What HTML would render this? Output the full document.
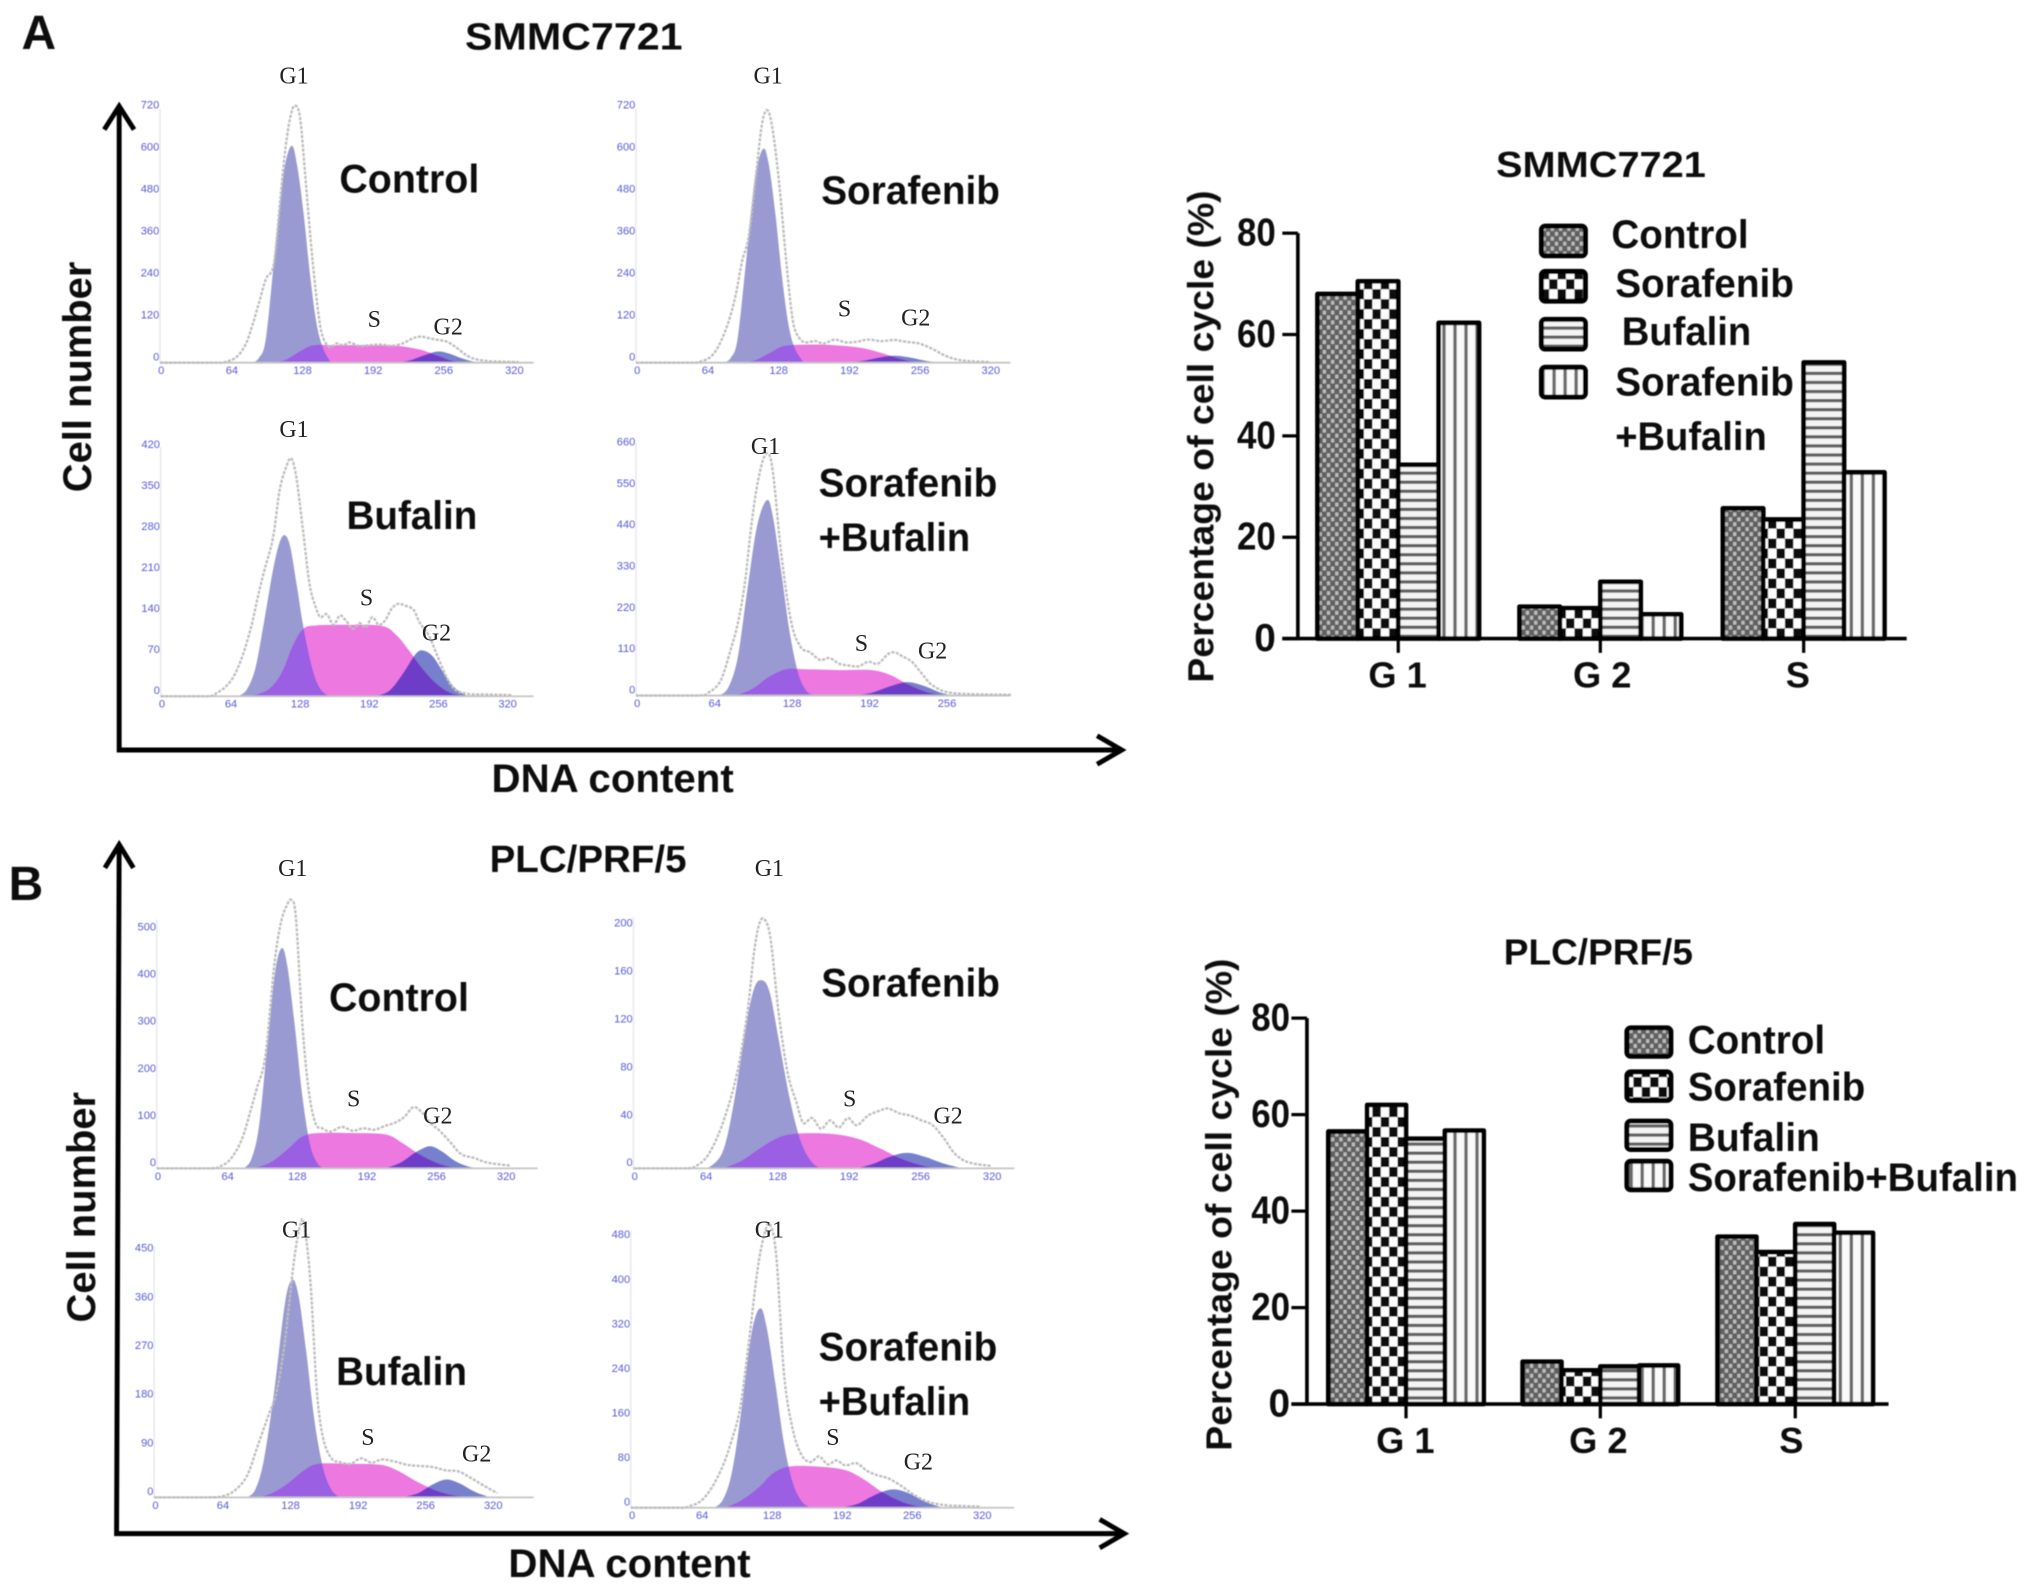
<!DOCTYPE html>
<html lang="en">
<head>
<meta charset="utf-8">
<title>Cell cycle distribution – SMMC7721 and PLC/PRF/5</title>
<style>
html,body{margin:0;padding:0;background:#fff;}
svg{display:block;}
text{font-family:"Liberation Sans",sans-serif;fill:#111;}
.b{font-weight:bold;dominant-baseline:central;}
.m{text-anchor:middle;}
</style>
</head>
<body>
<svg id="figure" xmlns="http://www.w3.org/2000/svg" width="2031" height="1590" viewBox="0 0 1568 1227.5">
<defs>
  <filter id="soft" x="-5%" y="-5%" width="110%" height="110%"><feGaussianBlur stdDeviation="0.5"/></filter>
  <filter id="softer" x="-5%" y="-5%" width="110%" height="110%"><feGaussianBlur stdDeviation="0.45"/></filter>
  <pattern id="pat-control" patternUnits="userSpaceOnUse" width="6.4" height="7.6">
    <rect width="6.4" height="7.6" fill="#606060"/>
    <rect x="0.4" y="0.4" width="2.5" height="3" fill="#bdbdbd"/>
    <rect x="3.6" y="4.2" width="2.5" height="3" fill="#bdbdbd"/>
  </pattern>
  <pattern id="pat-sorafenib" patternUnits="userSpaceOnUse" width="13" height="15.4">
    <rect width="13" height="15.4" fill="#fff"/>
    <rect width="6.5" height="7.7" fill="#0a0a0a"/>
    <rect x="6.5" y="7.7" width="6.5" height="7.7" fill="#0a0a0a"/>
  </pattern>
  <pattern id="pat-bufalin" patternUnits="userSpaceOnUse" width="7" height="7">
    <rect width="7" height="7" fill="#f4f4f4"/>
    <rect y="0" width="7" height="2.5" fill="#606060"/>
  </pattern>
  <pattern id="pat-combo" patternUnits="userSpaceOnUse" width="8.5" height="8.5">
    <rect width="8.5" height="8.5" fill="#fafafa"/>
    <rect x="0" width="2.6" height="8.5" fill="#6a6a6a"/>
  </pattern>
</defs>
<rect width="1568" height="1227.5" fill="#fff"/>

<g filter="url(#softer)">
<text class="b m" x="30" y="26" font-size="37">A</text>
<text class="b m" x="20" y="683" font-size="37">B</text>
<text class="b m" x="443" y="28" font-size="29" textLength="168" lengthAdjust="spacingAndGlyphs">SMMC7721</text>
<text class="b m" x="454" y="663" font-size="29" textLength="152" lengthAdjust="spacingAndGlyphs">PLC/PRF/5</text>
</g>

<g id="histograms"></g>

<g fill="none" stroke="#000" stroke-width="3.8" filter="url(#softer)">
  <path d="M92 82V579H866"/>
  <path d="M80.500 100L92 82L103.500 100"/>
  <path d="M847 568L866 579L847 590"/>
</g>
<g fill="none" stroke="#000" stroke-width="3.8" filter="url(#softer)">
  <path d="M92 652L90 1184H868"/>
  <path d="M81 670L92 652L103 670"/>
  <path d="M849 1173L868 1184L849 1195"/>
</g>
<g filter="url(#softer)">
<text class="b m" transform="translate(60 291) rotate(-90)" font-size="31" textLength="178" lengthAdjust="spacingAndGlyphs">Cell number</text>
<text class="b m" x="473" y="601" font-size="31" textLength="187" lengthAdjust="spacingAndGlyphs">DNA content</text>
<text class="b m" transform="translate(63 932) rotate(-90)" font-size="31" textLength="178" lengthAdjust="spacingAndGlyphs">Cell number</text>
<text class="b m" x="486" y="1207" font-size="31" textLength="187" lengthAdjust="spacingAndGlyphs">DNA content</text>
</g>

<g font-size="31" filter="url(#softer)">
  <text class="b m" x="316" y="138" textLength="108" lengthAdjust="spacingAndGlyphs">Control</text>
  <text class="b m" x="703" y="147" textLength="138" lengthAdjust="spacingAndGlyphs">Sorafenib</text>
  <text class="b m" x="318" y="398" textLength="101" lengthAdjust="spacingAndGlyphs">Bufalin</text>
  <text class="b m" x="701" y="373" textLength="138" lengthAdjust="spacingAndGlyphs">Sorafenib</text>
  <text class="b m" x="690.500" y="415" textLength="117" lengthAdjust="spacingAndGlyphs">+Bufalin</text>
  <text class="b m" x="308" y="770" textLength="108" lengthAdjust="spacingAndGlyphs">Control</text>
  <text class="b m" x="703" y="759" textLength="138" lengthAdjust="spacingAndGlyphs">Sorafenib</text>
  <text class="b m" x="310" y="1059" textLength="101" lengthAdjust="spacingAndGlyphs">Bufalin</text>
  <text class="b m" x="701" y="1040" textLength="138" lengthAdjust="spacingAndGlyphs">Sorafenib</text>
  <text class="b m" x="690.500" y="1082" textLength="117" lengthAdjust="spacingAndGlyphs">+Bufalin</text>
</g>

<!-- Bar chart A static text -->
<g filter="url(#softer)">
<text class="b m" x="1236" y="127" font-size="28" textLength="162" lengthAdjust="spacingAndGlyphs">SMMC7721</text>
<text class="b m" transform="translate(927 337) rotate(-90)" font-size="28" textLength="380" lengthAdjust="spacingAndGlyphs">Percentage of cell cycle (%)</text>
<g font-size="31">
  <rect x="1190" y="174.500" width="34" height="23" rx="3" fill="url(#pat-control)" stroke="#000" stroke-width="3.8"/>
  <rect x="1190" y="209.500" width="34" height="23" rx="3" fill="url(#pat-sorafenib)" stroke="#000" stroke-width="3.8"/>
  <rect x="1190" y="246.500" width="34" height="23" rx="3" fill="url(#pat-bufalin)" stroke="#000" stroke-width="3.8"/>
  <rect x="1190" y="283.500" width="34" height="23" rx="3" fill="url(#pat-combo)" stroke="#000" stroke-width="3.8"/>
  <text class="b" x="1244" y="181" textLength="106" lengthAdjust="spacingAndGlyphs">Control</text>
  <text class="b" x="1247" y="219" textLength="138" lengthAdjust="spacingAndGlyphs">Sorafenib</text>
  <text class="b" x="1252" y="256" textLength="100" lengthAdjust="spacingAndGlyphs">Bufalin</text>
  <text class="b" x="1247" y="295" textLength="138" lengthAdjust="spacingAndGlyphs">Sorafenib</text>
  <text class="b" x="1247" y="337" textLength="117" lengthAdjust="spacingAndGlyphs">+Bufalin</text>
</g>
</g>

<!-- Bar chart B static text -->
<g filter="url(#softer)">
<text class="b m" x="1234" y="735" font-size="28" textLength="146" lengthAdjust="spacingAndGlyphs">PLC/PRF/5</text>
<text class="b m" transform="translate(941 930) rotate(-90)" font-size="28" textLength="380" lengthAdjust="spacingAndGlyphs">Percentage of cell cycle (%)</text>
<g font-size="31">
  <rect x="1256" y="793.500" width="34" height="22" rx="3" fill="url(#pat-control)" stroke="#000" stroke-width="3.8"/>
  <rect x="1256" y="827.500" width="34" height="22" rx="3" fill="url(#pat-sorafenib)" stroke="#000" stroke-width="3.8"/>
  <rect x="1256" y="865.500" width="34" height="22" rx="3" fill="url(#pat-bufalin)" stroke="#000" stroke-width="3.8"/>
  <rect x="1256" y="896.500" width="34" height="22" rx="3" fill="url(#pat-combo)" stroke="#000" stroke-width="3.8"/>
  <text class="b" x="1303" y="803" textLength="106" lengthAdjust="spacingAndGlyphs">Control</text>
  <text class="b" x="1303" y="839" textLength="137" lengthAdjust="spacingAndGlyphs">Sorafenib</text>
  <text class="b" x="1303" y="878" textLength="102" lengthAdjust="spacingAndGlyphs">Bufalin</text>
  <text class="b" x="1303" y="909" textLength="255" lengthAdjust="spacingAndGlyphs">Sorafenib+Bufalin</text>
</g>
</g>

<g id="chart-a" filter="url(#softer)"></g>
<g id="chart-b" filter="url(#softer)"></g>
</svg>

<script>
// ---------- Bar chart data ----------
const barCategories = ['G 1', 'G 2', 'S'];
const barTicks = [0, 20, 40, 60, 80];
const smmcControl = [68, 6.3, 25.7];
const smmcSorafenib = [70.5, 6, 23.5];
const smmcBufalin = [34.3, 11.2, 54.5];
const smmcCombo = [62.3, 4.8, 32.8];
const plcControl = [56.5, 8.8, 34.7];
const plcSorafenib = [62, 7, 31.5];
const plcBufalin = [55, 7.8, 37.3];
const plcCombo = [56.7, 8, 35.5];

// ---------- Histogram data: [channel, count] knots ----------
const histXTicks = [0, 64, 128, 192, 256, 320];
const histXTicksShort = [0, 64, 128, 192, 256];
const a1Ticks = [0, 120, 240, 360, 480, 600, 720];
const a2Ticks = [0, 120, 240, 360, 480, 600, 720];
const a3Ticks = [0, 70, 140, 210, 280, 350, 420];
const a4Ticks = [0, 110, 220, 330, 440, 550, 660];
const b1Ticks = [0, 100, 200, 300, 400, 500];
const b2Ticks = [0, 40, 80, 120, 160, 200];
const b3Ticks = [0, 90, 180, 270, 360, 450];
const b4Ticks = [0, 80, 160, 240, 320, 400, 480];

const a1G1 = [[84,0],[90,15],[96,70],[104,310],[112,540],[119,620],[124,570],[130,430],[136,250],[142,110],[148,40],[155,0]];
const a1S = [[103,0],[115,10],[128,35],[139,50],[160,50],[190,50],[215,48],[235,38],[250,22],[262,8],[272,0]];
const a1G2 = [[215,0],[228,8],[240,22],[252,32],[262,26],[274,12],[284,3],[292,0]];
const a1Line = [[0,0],[50,0],[60,3],[70,18],[78,55],[84,110],[90,175],[96,240],[100,255],[104,300],[110,500],[114,620],[118,700],[122,735],[127,700],[132,520],[138,300],[144,130],[148,70],[154,45],[160,55],[166,50],[172,58],[180,48],[190,50],[200,52],[210,48],[220,55],[228,68],[236,75],[244,70],[252,65],[260,60],[268,45],[276,25],[284,12],[296,5],[310,3],[325,2]];

const a2G1 = [[80,0],[86,15],[92,70],[100,300],[108,530],[115,611],[120,570],[126,430],[132,250],[138,110],[144,40],[152,0]];
const a2S = [[98,0],[110,10],[122,30],[134,48],[155,52],[180,50],[205,42],[222,28],[238,12],[250,3],[262,0]];
const a2G2 = [[195,0],[210,8],[222,16],[234,20],[246,16],[258,8],[270,2],[280,0]];
const a2Line = [[0,0],[48,0],[58,3],[68,18],[76,55],[84,120],[90,190],[96,290],[102,360],[108,520],[114,680],[119,722],[124,660],[130,500],[136,290],[142,120],[148,70],[154,58],[162,62],[170,55],[180,66],[190,58],[200,60],[210,66],[222,62],[234,65],[244,60],[256,55],[268,40],[280,20],[292,8],[305,4],[320,2]];

const a3G1 = [[72,0],[80,12],[88,50],[96,130],[104,215],[110,262],[115,275],[120,255],[126,190],[132,120],[140,50],[147,15],[155,0]];
const a3S = [[84,0],[100,12],[112,40],[122,85],[132,115],[145,121],[175,122],[205,120],[218,105],[230,78],[242,48],[255,22],[268,6],[282,0]];
const a3G2 = [[200,0],[212,10],[224,38],[236,72],[243,78],[252,68],[262,40],[272,15],[284,0]];
const a3Line = [[0,0],[44,0],[52,6],[60,16],[68,35],[76,70],[84,120],[90,170],[96,215],[104,270],[110,350],[116,390],[121,406],[126,370],[132,280],[138,190],[144,150],[148,135],[154,140],[160,122],[166,138],[172,128],[178,115],[184,125],[190,118],[196,135],[202,122],[208,130],[214,150],[220,158],[226,155],[234,148],[240,125],[248,105],[256,70],[264,35],[272,12],[284,4],[300,3],[325,2]];

const a4G1 = [[68,0],[76,20],[84,100],[92,280],[100,450],[108,520],[113,480],[120,330],[127,170],[134,60],[141,12],[148,0]];
const a4S = [[82,0],[96,18],[110,50],[124,70],[140,70],[170,68],[195,68],[210,55],[225,30],[240,10],[255,0]];
const a4G2 = [[180,0],[195,8],[210,25],[224,36],[238,26],[250,10],[262,0]];
const a4Line = [[0,0],[50,0],[60,8],[70,40],[78,120],[84,190],[90,300],[96,470],[102,590],[108,645],[113,600],[120,380],[128,200],[136,130],[144,115],[152,95],[160,100],[168,85],[176,80],[184,78],[192,90],[200,85],[208,110],[214,115],[220,105],[228,90],[236,60],[244,30],[256,10],[275,4],[310,2]];

const b1G1 = [[80,0],[87,20],[94,90],[102,270],[109,420],[115,467],[120,430],[127,300],[134,150],[141,50],[148,10],[155,0]];
const b1S = [[88,0],[104,12],[120,40],[134,68],[150,75],[180,75],[210,72],[225,55],[240,32],[255,14],[270,3],[285,0]];
const b1G2 = [[210,0],[224,12],[238,34],[251,47],[262,36],[274,16],[286,4],[298,0]];
const b1Line = [[0,0],[48,0],[58,4],[68,20],[78,60],[86,120],[92,170],[100,240],[108,430],[114,520],[120,560],[124,568],[128,530],[134,300],[140,160],[146,95],[152,85],[160,78],[170,88],[180,80],[190,85],[200,82],[210,90],[220,98],[228,110],[236,130],[244,118],[252,95],[260,80],[270,55],[280,30],[292,22],[304,12],[325,6]];

const b2G1 = [[67,0],[80,14],[90,55],[100,115],[108,150],[115,157],[122,147],[130,108],[140,58],[150,22],[160,5],[168,0]];
const b2S = [[80,0],[96,6],[112,16],[128,25],[145,29],[175,29],[200,25],[220,17],[240,8],[260,2],[275,0]];
const b2G2 = [[200,0],[215,4],[230,10],[245,13],[260,10],[278,4],[295,0]];
const b2Line = [[0,0],[46,0],[56,2],[66,10],[76,28],[86,55],[94,85],[102,130],[108,180],[113,205],[118,207],[123,190],[130,130],[138,80],[146,55],[152,38],[160,42],[168,33],[176,40],[184,34],[192,42],[200,36],[210,44],[220,48],[228,50],[238,46],[248,44],[258,40],[268,36],[278,25],[288,12],[300,5],[320,2]];

const b3G1 = [[88,0],[96,15],[104,70],[114,200],[124,360],[131,402],[137,370],[144,270],[152,140],[160,55],[168,14],[176,0]];
const b3S = [[100,0],[114,10],[128,28],[142,50],[155,62],[185,62],[215,60],[232,48],[250,28],[268,12],[285,3],[300,0]];
const b3G2 = [[235,0],[250,8],[264,24],[277,33],[290,25],[304,10],[318,0]];
const b3Line = [[0,0],[50,0],[64,2],[76,12],[88,40],[98,95],[108,150],[116,195],[124,290],[132,430],[138,500],[142,505],[148,400],[154,200],[160,110],[168,72],[176,65],[186,62],[196,72],[206,64],[216,70],[228,66],[240,60],[252,58],[264,56],[276,50],[288,48],[300,36],[312,22],[325,8]];

const b4G1 = [[76,0],[84,14],[92,60],[100,160],[110,310],[118,358],[124,325],[132,225],[140,115],[148,45],[156,12],[164,0]];
const b4S = [[86,0],[100,12],[116,35],[130,62],[145,74],[170,74],[195,68],[212,52],[230,28],[250,9],[265,2],[278,0]];
const b4G2 = [[192,0],[208,8],[225,25],[240,33],[254,26],[270,10],[285,0]];
const b4Line = [[0,0],[44,0],[54,3],[64,12],[74,36],[84,75],[92,120],[100,180],[108,300],[116,430],[122,490],[127,509],[133,450],[140,240],[148,140],[156,95],[164,82],[172,92],[180,78],[188,85],[196,76],[206,80],[216,66],[226,58],[236,52],[248,38],[258,24],[270,12],[285,5],[305,3],[320,2]];

// ---------- Layout ----------
const NS = 'http://www.w3.org/2000/svg';
function make(tag, attrs, parent) {
  const el = document.createElementNS(NS, tag);
  for (const k in attrs) el.setAttribute(k, attrs[k]);
  parent.appendChild(el);
  return el;
}

const histPanels = [
  {id:'a-control', x0:123.5, sx:.852, y0:280, sy:.27, top:84, right:412, xTicks:histXTicks, yTicks:a1Ticks, g1:a1G1, s:a1S, g2:a1G2, line:a1Line,
   peaks:[[227,59],[289,247],[346,253]]},
  {id:'a-sorafenib', x0:491, sx:.853, y0:280, sy:.27, top:84, right:780, xTicks:histXTicks, yTicks:a2Ticks, g1:a2G1, s:a2S, g2:a2G2, line:a2Line,
   peaks:[[593,59],[652,239],[707,246]]},
  {id:'a-bufalin', x0:124, sx:.834, y0:537.5, sy:.452, top:345, right:412, xTicks:histXTicks, yTicks:a3Ticks, g1:a3G1, s:a3S, g2:a3G2, line:a3Line,
   peaks:[[227,332],[283,462],[337,489]]},
  {id:'a-combo', x0:491, sx:.934, y0:537, sy:.29, top:342, right:780, xTicks:histXTicksShort, yTicks:a4Ticks, g1:a4G1, s:a4S, g2:a4G2, line:a4Line,
   peaks:[[591,345],[665,497],[720,503]]},
  {id:'b-control', x0:121, sx:.84, y0:902, sy:.364, top:710, right:415, xTicks:histXTicks, yTicks:b1Ticks, g1:b1G1, s:b1S, g2:b1G2, line:b1Line,
   peaks:[[226,671],[273,849],[338,862]]},
  {id:'b-sorafenib', x0:489, sx:.8625, y0:902, sy:.925, top:708, right:783, xTicks:histXTicks, yTicks:b2Ticks, g1:b2G1, s:b2S, g2:b2G2, line:b2Line,
   peaks:[[594,671],[656,849],[732,862]]},
  {id:'b-bufalin', x0:119, sx:.815, y0:1156, sy:.418, top:962, right:412, xTicks:histXTicks, yTicks:b3Ticks, g1:b3G1, s:b3S, g2:b3G2, line:b3Line,
   peaks:[[229,950],[284,1110],[368,1123]]},
  {id:'b-combo', x0:487, sx:.845, y0:1164, sy:.43, top:950, right:783, xTicks:histXTicks, yTicks:b4Ticks, g1:b4G1, s:b4S, g2:b4G2, line:b4Line,
   peaks:[[594,950],[643,1110],[709,1129]]}
];
const peakLabels = ['G1', 'S', 'G2'];

function smoothPath(points, xf, yf, closeBase) {
  const pts = points.map(p => [xf(p[0]), yf(p[1])]);
  const base = yf(0);
  let d = 'M' + pts[0][0].toFixed(1) + ' ' + pts[0][1].toFixed(1);
  for (let i = 0; i < pts.length - 1; i++) {
    const p0 = pts[i - 1] || pts[i], p1 = pts[i], p2 = pts[i + 1], p3 = pts[i + 2] || p2;
    const c1x = p1[0] + (p2[0] - p0[0]) / 6, c1y = Math.min(base, p1[1] + (p2[1] - p0[1]) / 6);
    const c2x = p2[0] - (p3[0] - p1[0]) / 6, c2y = Math.min(base, p2[1] - (p3[1] - p1[1]) / 6);
    d += 'C' + c1x.toFixed(1) + ' ' + c1y.toFixed(1) + ' ' + c2x.toFixed(1) + ' ' + c2y.toFixed(1) + ' ' + p2[0].toFixed(1) + ' ' + p2[1].toFixed(1);
  }
  return closeBase ? d + 'Z' : d;
}

const histRoot = document.getElementById('histograms');
const defs = document.querySelector('defs');

histPanels.forEach(function (p) {
  const xScale = v => p.x0 + v * p.sx;
  const yScale = v => p.y0 - v * p.sy;

  const g = make('g', {}, histRoot);
  
  

  const plot = make('g', {filter: 'url(#soft)'}, g);
  
  

  const g1d = smoothPath(p.g1, xScale, yScale, true);
  const sd = smoothPath(p.s, xScale, yScale, true);
  const g2d = smoothPath(p.g2, xScale, yScale, true);

  const clipG1 = make('clipPath', {id: 'clip-g1-' + p.id}, defs);
  make('path', {d: g1d}, clipG1);
  const clipG2 = make('clipPath', {id: 'clip-g2-' + p.id}, defs);
  make('path', {d: g2d}, clipG2);

  const yAxis = make('path', {d: 'M' + xScale(0) + ' ' + p.top + 'V' + p.y0, stroke: '#e4e4ee', 'stroke-width': 1, fill: 'none'}, plot);
  
  

  const area1 = make('path', {d: g1d, fill: '#9a9ad2'}, plot);
  
  

  const area2 = make('path', {d: g2d, fill: '#7680cc'}, plot);
  
  

  const areaS = make('path', {d: sd, fill: '#ec78e0'}, plot);
  
  

  const overlapA = make('path', {d: sd, fill: '#9a5fe2', 'clip-path': 'url(#clip-g1-' + p.id + ')'}, plot);
  
  

  const overlapB = make('path', {d: sd, fill: '#6e3cc8', 'clip-path': 'url(#clip-g2-' + p.id + ')'}, plot);
  
  

  const baseLine = make('path', {d: 'M' + xScale(0) + ' ' + p.y0 + 'H' + p.right, stroke: '#c4c4c4', 'stroke-width': 1.4, fill: 'none'}, plot);
  
  

  const trace = make('path', {d: smoothPath(p.line, xScale, yScale, false), stroke: '#bdbdbd', 'stroke-width': 1.8, 'stroke-dasharray': '2.4 1.1', fill: 'none'}, plot);
  
  

  p.xTicks.forEach(function (v) {
    const t = make('text', {x: xScale(v) + 1, y: p.y0 + 6.5, 'font-size': 8.6, 'text-anchor': 'middle', 'dominant-baseline': 'central', style: 'fill:#5858dc'}, plot);
    
    
    t.textContent = v;
  });
  p.yTicks.forEach(function (v) {
    const t = make('text', {x: xScale(0) - 0.5, y: yScale(v) - 4, 'font-size': 8.6, 'text-anchor': 'end', 'dominant-baseline': 'central', style: 'fill:#5858dc'}, plot);
    
    
    t.textContent = v;
  });

  p.peaks.forEach(function (pos, i) {
    const t = make('text', {x: pos[0], y: pos[1], 'font-size': 18.5, 'text-anchor': 'middle', 'dominant-baseline': 'central', style: 'font-family:"Liberation Serif",serif;fill:#222'}, g);
    
    
    t.textContent = peakLabels[i];
  });
});

// ---------- Bar charts ----------
const patternIds = ['pat-control', 'pat-sorafenib', 'pat-bufalin', 'pat-combo'];
const seriesNames = ['control', 'sorafenib', 'bufalin', 'combo'];

function drawBars(rootId, series, layout) {
  const root = document.getElementById(rootId);
  const yScale = v => layout.y0 - v * (layout.y0 - layout.y80) / 80;
  const xCenter = i => layout.centers[i];

  series.forEach(function (vals, s) {
    vals.forEach(function (v, c) {
      const left = xCenter(c) - 2 * layout.barW + s * layout.barW;
      const bar = make('rect', {x: left, y: yScale(v), width: layout.barW, height: layout.y0 - yScale(v), fill: 'url(#' + patternIds[s] + ')', stroke: '#000', 'stroke-width': 3.6, 'stroke-linejoin': 'round'}, root);
      
      
    });
  });

  const axis = make('path', {d: 'M' + layout.axisX + ' ' + layout.y80 + 'V' + layout.y0 + 'M' + (layout.axisX - 12) + ' ' + layout.y0 + 'H' + layout.axisEnd, stroke: '#000', 'stroke-width': 2.8, fill: 'none'}, root);
  
  

  barTicks.forEach(function (v) {
    const tick = make('path', {d: 'M' + (layout.axisX - 12) + ' ' + yScale(v) + 'H' + layout.axisX, stroke: '#000', 'stroke-width': 2.5, fill: 'none'}, root);
    
    
    const label = make('text', {x: layout.axisX - layout.tickGap, y: yScale(v), 'font-size': 30, 'font-weight': 'bold', 'text-anchor': 'end', 'dominant-baseline': 'central'}, root);
    if (v >= 10) label.setAttribute('textLength', 30);
    if (v >= 10) label.setAttribute('lengthAdjust', 'spacingAndGlyphs');
    
    
    label.textContent = v;
  });

  barCategories.forEach(function (name, i) {
    const tick = make('path', {d: 'M' + xCenter(i) + ' ' + layout.y0 + 'v11', stroke: '#000', 'stroke-width': 2.5, fill: 'none'}, root);
    
    
    const label = make('text', {x: layout.labelX[i], y: layout.labelY, 'font-size': 28, 'font-weight': 'bold', 'text-anchor': 'middle', 'dominant-baseline': 'central'}, root);
    
    
    label.textContent = name;
  });
}

drawBars('chart-a', [smmcControl, smmcSorafenib, smmcBufalin, smmcCombo],
  {y0: 493, y80: 180, axisX: 1002, axisEnd: 1472, barW: 31.2, tickGap: 17, centers: [1079.5, 1235.5, 1392.5], labelX: [1079, 1237, 1388], labelY: 521});
drawBars('chart-b', [plcControl, plcSorafenib, plcBufalin, plcCombo],
  {y0: 1084, y80: 786, axisX: 1009, axisEnd: 1458, barW: 30, tickGap: 13, centers: [1085.5, 1235.5, 1386], labelX: [1085, 1234, 1383], labelY: 1112});
</script>
</body>
</html>
